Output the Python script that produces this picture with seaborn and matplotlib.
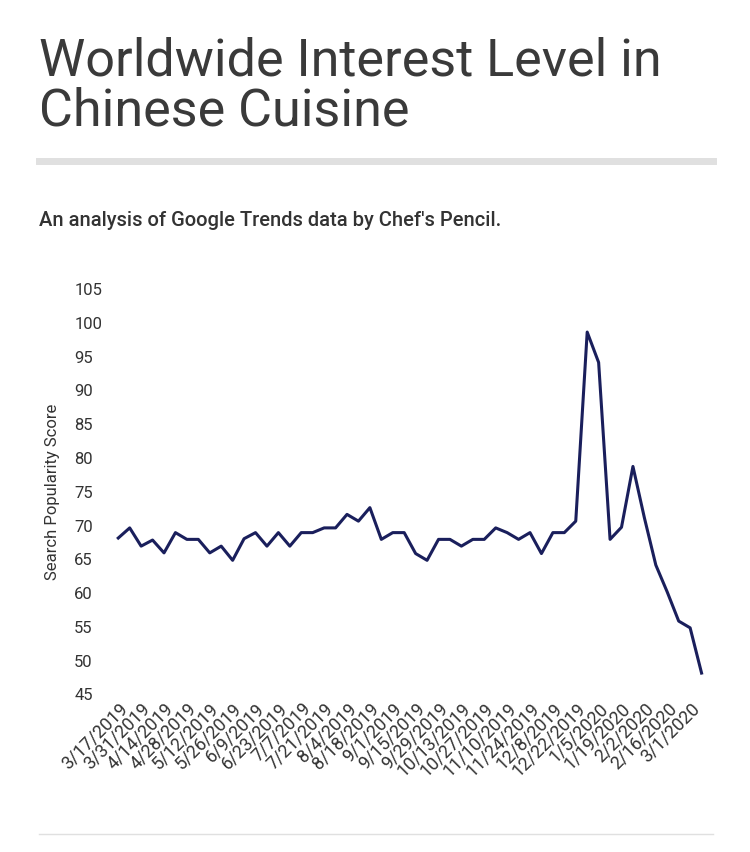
import matplotlib.pyplot as plt
import seaborn as sns
import pandas as pd
import numpy as np

plt.rcParams['font.family'] = 'Roboto'

# weekly dates, 3/17/2019 .. 3/8/2020
dates = pd.date_range('2019-03-17', periods=52, freq='7D')
scores = [68, 69.5, 66.8, 67.7, 65.8, 68.8, 67.8, 67.8, 65.8, 66.8,
          64.7, 67.9, 68.8, 66.8, 68.8, 66.8, 68.8, 68.8, 69.5, 69.5,
          71.5, 70.5, 72.5, 67.8, 68.8, 68.8, 65.7, 64.7, 67.8, 67.8,
          66.8, 67.8, 67.8, 69.5, 68.8, 67.8, 68.8, 65.7, 68.8, 68.8,
          70.5, 98.5, 94, 67.8, 69.6, 78.6, 71, 64, 60, 55.7,
          54.7, 48]
tick_labels = [f'{d.month}/{d.day}/{d.year}' for d in dates[::2]]

df = pd.DataFrame({'week': np.arange(len(scores)), 'score': scores})

fig = plt.figure(figsize=(7.5, 8.53), dpi=100)
ax = fig.add_axes([0.147, 0.186, 0.793, 0.475])
sns.lineplot(data=df, x='week', y='score', color='#1a1f5c', lw=2.2, ax=ax)

ax.set_ylim(45, 105)
ax.set_yticks(range(45, 106, 5))
ax.set_xlim(-0.7, 51.3)
ax.set_xticks(df['week'][::2])
ax.set_xticklabels(tick_labels, rotation=45, ha='right', rotation_mode='anchor')
ax.tick_params(length=0, labelsize=12, colors='#333333')
ax.tick_params(axis='x', labelsize=13)
for lbl in ax.get_yticklabels():
    lbl.set_ha('left')
ax.tick_params(axis='y', pad=26)
ax.set_xlabel('')
ax.set_ylabel('Search Popularity Score', fontsize=12, color='#333333')
ax.yaxis.set_label_coords(-0.085, 0.5)
sns.despine(ax=ax, left=True, bottom=True)

fig.text(0.052, 0.957, 'Worldwide Interest Level in\nChinese Cuisine', fontsize=37.5,
         color='#3a3a3a', va='top', linespacing=1.0)
fig.add_artist(plt.Line2D([0.052, 0.951], [0.81, 0.81], color='#e0e0e0', lw=5))
fig.text(0.052, 0.741, "An analysis of Google Trends data by Chef's Pencil.",
         fontsize=14.5, color='#333333', va='center', fontweight='medium')
fig.add_artist(plt.Line2D([0.052, 0.951], [0.021, 0.021], color='#e0e0e0', lw=1))

fig.savefig('out.png', dpi=100)
